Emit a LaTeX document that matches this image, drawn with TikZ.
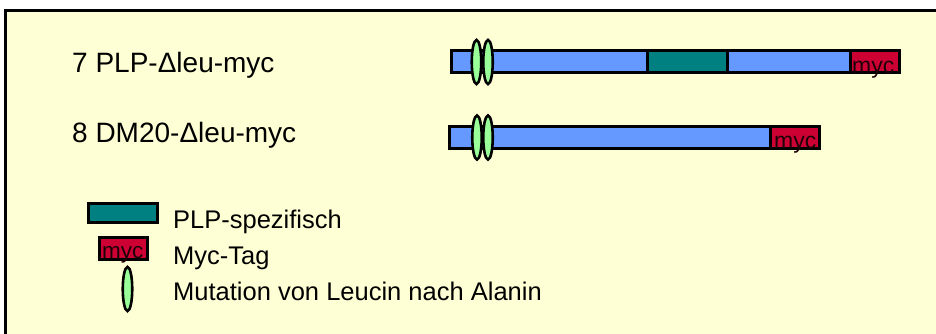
\documentclass[tikz,border=0pt]{standalone}
\usepackage{fontspec}
\setmainfont{Liberation Sans}
\usetikzlibrary{shapes.geometric}
\definecolor{bg}{HTML}{FFFFD5}
\definecolor{barblue}{HTML}{6699FF}
\definecolor{tealc}{HTML}{008080}
\definecolor{mycred}{HTML}{CC0033}
\definecolor{mutgreen}{HTML}{99FF99}
\tikzset{
  bar/.style={draw=black, line width=3pt, fill=barblue},
  plpbox/.style={draw=black, line width=3pt, fill=tealc},
  mycbox/.style={draw=black, line width=3pt, fill=mycred},
  mut/.style={draw=black, line width=2.6pt, fill=mutgreen, ellipse, minimum width=9.5pt, minimum height=44pt, inner sep=0pt},
  lbl/.style={anchor=base west, inner sep=0pt, font=\fontsize{28}{32}\selectfont},
  leglbl/.style={anchor=base west, inner sep=0pt, font=\fontsize{25.5}{29}\selectfont},
  myctxt/.style={anchor=base west, inner sep=0pt, text=black!85!mycred, font=\fontsize{23}{26}\selectfont}
}
\begin{document}
\begin{tikzpicture}[x=1pt,y=-1pt]
\useasboundingbox (0,0) rectangle (936,333);
\fill[white] (0,0) rectangle (936,333);
\begin{scope}
\clip (0,0) rectangle (936,333);
\draw[line width=3pt, fill=bg] (5.5,10) rectangle (945,345);
\end{scope}
% labels
\node[lbl] (l7) at (72,72) {7 PLP-\symbol{"0394}leu-myc};
\node[lbl] (l8) at (72,142) {8 DM20-\symbol{"0394}leu-myc};
% bar 1
\draw[bar] (451,50.5) rectangle (899,72.5);
\draw[plpbox] (647,50.5) rectangle (727,72.5);
\draw[mycbox] (850,50.5) rectangle (899,72.5);
\node[myctxt] (m1) at (852,73.5) {myc};
\node[mut] (e1a) at (476.5,62) {};
\node[mut] (e1b) at (488,62) {};
% bar 2
\draw[bar] (449,126) rectangle (819,148);
\draw[mycbox] (770,126) rectangle (819,148);
\node[myctxt] (m2) at (774,148.5) {myc};
\node[mut] (e2a) at (477,137.5) {};
\node[mut] (e2b) at (488,137.5) {};
% legend
\draw[plpbox] (88,203.5) rectangle (157,222);
\draw[mycbox] (99.5,237.5) rectangle (147.5,259.5);
\node[myctxt, font=\fontsize{22.5}{25}\selectfont] (m3) at (102,258) {myc};
\node[mut] (e3) at (127.5,289) {};
\node[leglbl] (t1) at (173,228) {PLP-spezifisch};
\node[leglbl] (t2) at (173,264) {Myc-Tag};
\node[leglbl] (t3) at (173,300) {Mutation von Leucin nach Alanin};
\end{tikzpicture}
\end{document}
